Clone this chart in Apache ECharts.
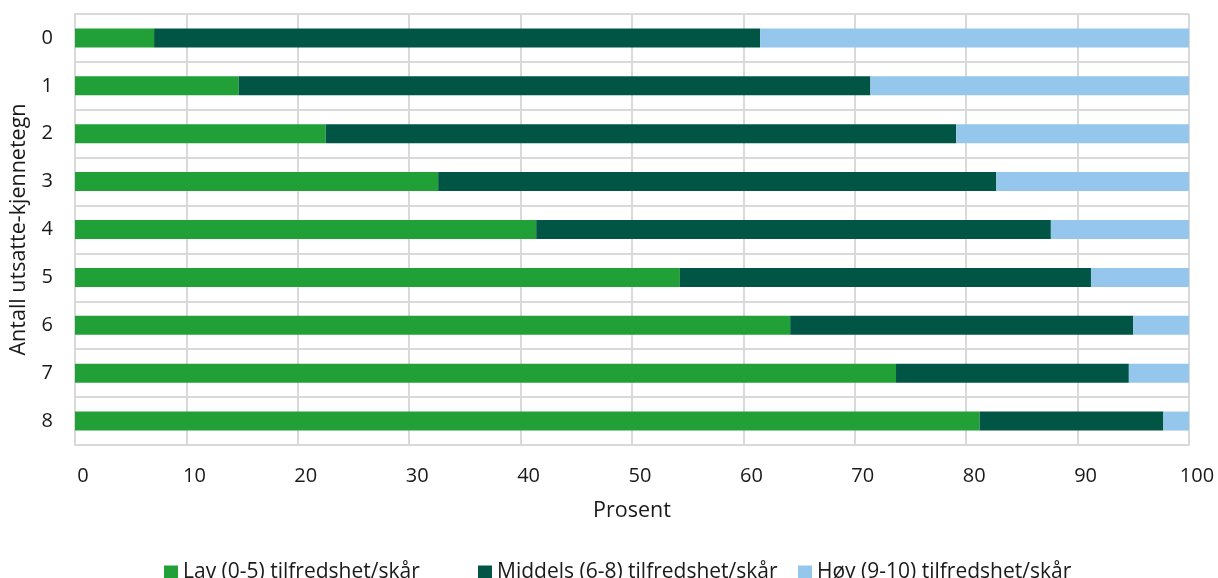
<!DOCTYPE html>
<html>
<head>
<meta charset="utf-8">
<script src="https://cdn.jsdelivr.net/npm/echarts@6/dist/echarts.min.js"></script>
<style>
  html, body { margin: 0; padding: 0; background: #fff; }
  #chart { width: 1218px; height: 578px; }
</style>
</head>
<body>
<div id="chart"></div>
<script>
// antall utsatte-kjennetegn
var categories = ["0", "1", "2", "3", "4", "5", "6", "7", "8"];
var seriesNames = ["Lav (0-5) tilfredshet/skår", "Middels (6-8) tilfredshet/skår", "Høy (9-10) tilfredshet/skår"];
var lav = [7.1, 14.7, 22.5, 32.6, 41.4, 54.3, 64.2, 73.7, 81.2];
var middels = [54.4, 56.7, 56.6, 50.1, 46.2, 36.9, 30.8, 20.9, 16.5];
var hoy = [38.5, 28.6, 20.9, 17.3, 12.4, 8.8, 5.0, 5.4, 2.3];

var gridColor = "#d9d9d9";
var textStyle = { fontFamily: "Open Sans", fontSize: 20, color: "#1a1a1a" };
var bigText = { fontFamily: "Open Sans", fontSize: 21.5, color: "#1a1a1a" };
var legendText = { fontFamily: "Open Sans", fontSize: 21, color: "#1a1a1a" };

// original legend uses fixed slots, so one legend per item
var legendLeft = [164, 478, 798];

var chart = echarts.init(document.getElementById("chart"));
var option = {
  animation: false,
  grid: { left: 75, right: 29, top: 14, bottom: 133 },
  legend: seriesNames.map(function (n, i) {
    return {
      top: 562,
      left: legendLeft[i],
      padding: 0,
      itemWidth: 14,
      itemHeight: 14,
      icon: "rect",
      textStyle: legendText,
      data: [n]
    };
  }),
  xAxis: {
    type: "value",
    min: 0,
    max: 100,
    interval: 10,
    name: "Prosent",
    nameLocation: "middle",
    nameGap: 55,
    nameTextStyle: bigText,
    axisLine: { show: true, lineStyle: { color: gridColor, width: 2 } },
    axisTick: { show: false },
    axisLabel: Object.assign({ margin: 21, padding: [0, 0, 0, 16] }, textStyle),
    splitLine: { show: true, lineStyle: { color: gridColor, width: 2 } }
  },
  yAxis: {
    type: "category",
    inverse: true,
    data: categories,
    name: "Antall utsatte-kjennetegn",
    nameLocation: "middle",
    nameGap: 45,
    nameTextStyle: bigText,
    axisLine: { show: true, lineStyle: { color: gridColor, width: 2 } },
    axisTick: { show: false },
    axisLabel: Object.assign({ margin: 22 }, textStyle),
    splitLine: { show: true, lineStyle: { color: gridColor, width: 2 } }
  },
  series: [
    { name: seriesNames[0], type: "bar", stack: "total", barWidth: 19, data: lav, itemStyle: { color: "#21a038" } },
    { name: seriesNames[1], type: "bar", stack: "total", barWidth: 19, data: middels, itemStyle: { color: "#005545" } },
    { name: seriesNames[2], type: "bar", stack: "total", barWidth: 19, data: hoy, itemStyle: { color: "#95c6eb" } }
  ]
};
chart.setOption(option);
</script>
</body>
</html>
